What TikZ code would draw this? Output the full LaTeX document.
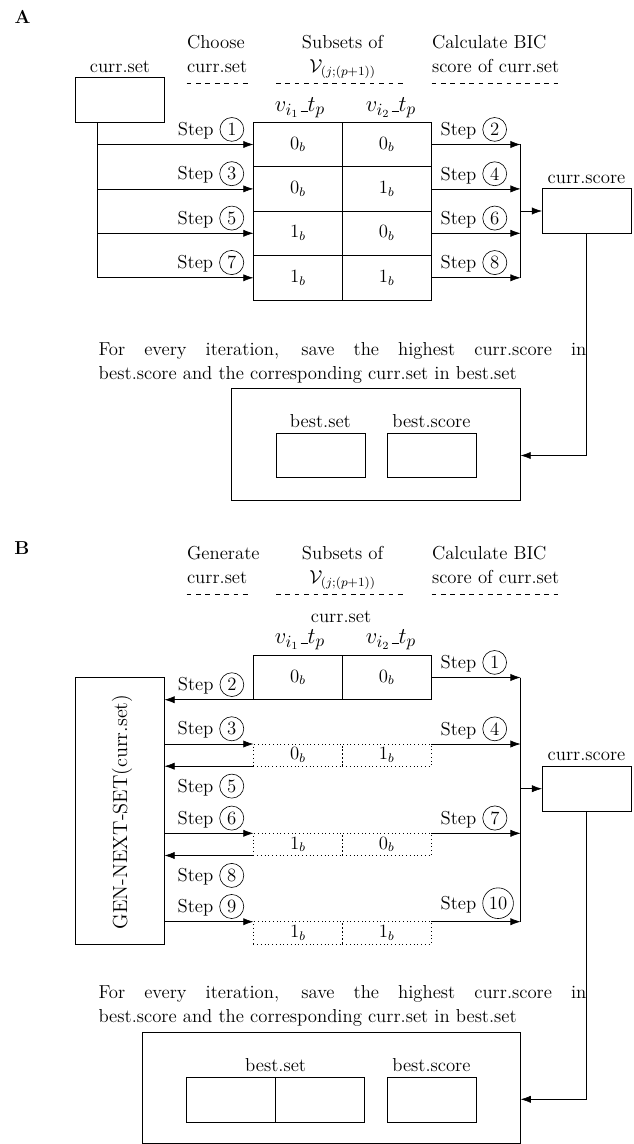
\documentclass[tikz,border=0pt]{standalone}
\usetikzlibrary{arrows.meta,calc}
\newcommand{\cnum}[1]{\tikz[baseline=(cn.base)]\node[draw,circle,inner sep=1.9pt](cn){#1};}
\newcommand{\usc}{\kern.06em\vbox{\hrule width.3em}}
\begin{document}
\begin{tikzpicture}[x=0.64pt,y=-0.64pt,
 every node/.style={font=\fontsize{12}{15.5}\selectfont},
 box/.style={draw, minimum width=56.9pt, minimum height=28.45pt, inner sep=0pt, outer sep=0pt},
 dcell/.style={draw, dotted, minimum width=56.9pt, minimum height=14.2pt, inner sep=0pt, outer sep=0pt},
 bigbox/.style={draw, inner sep=0pt, outer sep=0pt},
 arr/.style={-{Latex[length=6.5pt,width=4.6pt]}},
 steplbl/.style={inner sep=1pt},
 hdr/.style={inner sep=0pt},
 vlbl/.style={font=\fontsize{15}{18}\selectfont},
 para/.style={inner sep=0pt, anchor=north west, text width=312.2pt, align=justify},
 ttl/.style={font=\fontsize{12}{15.5}\selectfont\bfseries}
 ]
\useasboundingbox (0,0) rectangle (633,1144);

%% ---------------- Part A ----------------
\node[ttl] (labA) at (22.5,17) {A};

\node[hdr, anchor=north west, align=left] (hA1) at (186.7,35.1) {Choose\\curr.set};
\node[hdr, anchor=north, align=center] (hA2) at (342.6,35.1) {Subsets of\\$\mathcal{V}_{(j;(p+1))}$};
\node[hdr, anchor=north west, align=left] (hA3) at (431.7,35.1) {Calculate BIC\\score of curr.set};
\draw[dashed] (186.7,83.3) -- (249.4,83.3);
\draw[dashed] (276,83.3) -- (404,83.3);
\draw[dashed] (431.7,83.3) -- (559.8,83.3);

\node[box] (setA) at (120,100) {};
\node[anchor=south] (setAl) at (setA.north) {curr.set};

\node[vlbl] (vA1) at (300,108) {$v_{i_1}\mbox{\usc}t_p$};
\node[vlbl] (vA2) at (391,108) {$v_{i_2}\mbox{\usc}t_p$};

\node[box] (a11) at (297.9,144.5) {$0_b$};
\node[box] (a12) at (386.8,144.5) {$0_b$};
\node[box] (a21) at (297.9,188.9) {$0_b$};
\node[box] (a22) at (386.8,188.9) {$1_b$};
\node[box] (a31) at (297.9,233.3) {$1_b$};
\node[box] (a32) at (386.8,233.3) {$0_b$};
\node[box] (a41) at (297.9,277.8) {$1_b$};
\node[box] (a42) at (386.8,277.8) {$1_b$};

\node[box] (scoreA) at (586.5,211) {};
\node[anchor=south] (scoreAl) at (scoreA.north) {curr.score};

\coordinate (jA) at ($(setA.south west)!0.25!(setA.south east)$);
\coordinate (mA) at (520.6,144.5);
\foreach \r in {1,...,4}{
  \draw[arr] (jA) |- (a\r1.west);
  \draw[arr] (a\r2.east) -- (a\r2.east -| mA);
}
\draw (mA) -- (mA |- a42.east);
\draw[arr] (mA |- scoreA.west) -- (scoreA.west);

\node[steplbl, anchor=south east] (sA1) at ($(a11.west)+(-7.5,-1)$) {Step \cnum{1}};
\node[steplbl, anchor=south east] (sA3) at ($(a21.west)+(-7.5,-1)$) {Step \cnum{3}};
\node[steplbl, anchor=south east] (sA5) at ($(a31.west)+(-7.5,-1)$) {Step \cnum{5}};
\node[steplbl, anchor=south east] (sA7) at ($(a41.west)+(-7.5,-1)$) {Step \cnum{7}};
\node[steplbl, anchor=south west] (sA2) at ($(a12.east)+(7.5,-1)$) {Step \cnum{2}};
\node[steplbl, anchor=south west] (sA4) at ($(a22.east)+(7.5,-1)$) {Step \cnum{4}};
\node[steplbl, anchor=south west] (sA6) at ($(a32.east)+(7.5,-1)$) {Step \cnum{6}};
\node[steplbl, anchor=south west] (sA8) at ($(a42.east)+(7.5,-1)$) {Step \cnum{8}};

\node[para] (pA) at (98.2,341.7) {For every iteration, save the highest curr.score in\linebreak best.score and the corresponding curr.set in best.set};

\node[bigbox, minimum width=185.3pt, minimum height=71.7pt] (bigA) at (375.8,444) {};
\node[box] (bsA) at (320.4,455.5) {};
\node[box] (bscA) at (431.4,455.5) {};
\node[anchor=south] (bsAl) at (bsA.north) {best.set};
\node[anchor=south] (bscAl) at (bscA.north) {best.score};

\coordinate (tA) at (586.5,455.5);
\draw[arr] (scoreA.south) -- (tA) -- (tA -| bigA.east);

%% ---------------- Part B ----------------
\node[ttl] (labB) at (22,548) {B};

\node[hdr, anchor=north west, align=left] (hB1) at (186.7,546.1) {Generate\\curr.set};
\node[hdr, anchor=north, align=center] (hB2) at (342.6,546.1) {Subsets of\\$\mathcal{V}_{(j;(p+1))}$};
\node[hdr, anchor=north west, align=left] (hB3) at (431.7,546.1) {Calculate BIC\\score of curr.set};
\draw[dashed] (186.7,594.3) -- (249.4,594.3);
\draw[dashed] (276,594.3) -- (404,594.3);
\draw[dashed] (431.7,594.3) -- (559.8,594.3);

\node (cursetB) at (341,616.7) {curr.set};
\node[vlbl] (vB1) at (300,640) {$v_{i_1}\mbox{\usc}t_p$};
\node[vlbl] (vB2) at (391,640) {$v_{i_2}\mbox{\usc}t_p$};

\node[box] (b11) at (297.9,677.5) {$0_b$};
\node[box] (b12) at (386.8,677.5) {$0_b$};

\node[dcell] (d11) at (297.9,755.1) {$0_b$};
\node[dcell] (d12) at (386.8,755.1) {$1_b$};
\node[dcell] (d21) at (297.9,844.4) {$1_b$};
\node[dcell] (d22) at (386.8,844.4) {$0_b$};
\node[dcell] (d31) at (297.9,932.8) {$1_b$};
\node[dcell] (d32) at (386.8,932.8) {$1_b$};

\node[draw, minimum width=56.9pt, minimum height=170.7pt, inner sep=0pt, outer sep=0pt] (gen) at (120,810.5) {};
\node[rotate=90, font=\fontsize{13}{16}\selectfont] (gentxt) at (122,812) {GEN-NEXT-SET(curr.set)};

\node[box] (scoreB) at (586.5,788.7) {};
\node[anchor=south] (scoreBl) at (scoreB.north) {curr.score};

\coordinate (mB) at (520.6,677.5);
\draw[arr] (b12.east) -- (b12.east -| mB);
\draw[arr] (b11.south west) -- (b11.south west -| gen.east);
\draw[arr] (gen.east |- d11.north west) -- (d11.north west);
\draw[arr] (d12.north east) -- (d12.north east -| mB);
\draw[arr] (d11.south west) -- (d11.south west -| gen.east);
\draw[arr] (gen.east |- d21.north west) -- (d21.north west);
\draw[arr] (d22.north east) -- (d22.north east -| mB);
\draw[arr] (d21.south west) -- (d21.south west -| gen.east);
\draw[arr] (gen.east |- d31.north west) -- (d31.north west);
\draw[arr] (d32.north east) -- (d32.north east -| mB);
\draw (mB) -- (mB |- d32.north east);
\draw[arr] (mB |- scoreB.west) -- (scoreB.west);

\node[steplbl, anchor=south west] (sB1) at ($(b12.east)+(7.5,-1)$) {Step \cnum{1}};
\node[steplbl, anchor=south east] (sB2) at ($(b11.south west)+(-7.5,-1)$) {Step \cnum{2}};
\node[steplbl, anchor=south east] (sB3) at ($(d11.north west)+(-7.5,-1)$) {Step \cnum{3}};
\node[steplbl, anchor=south west] (sB4) at ($(d12.north east)+(7.5,-1)$) {Step \cnum{4}};
\node[steplbl, anchor=north east] (sB5) at ($(d11.south west)+(-7.5,5.7)$) {Step \cnum{5}};
\node[steplbl, anchor=south east] (sB6) at ($(d21.north west)+(-7.5,-1)$) {Step \cnum{6}};
\node[steplbl, anchor=south west] (sB7) at ($(d22.north east)+(7.5,-1)$) {Step \cnum{7}};
\node[steplbl, anchor=north east] (sB8) at ($(d21.south west)+(-7.5,5.7)$) {Step \cnum{8}};
\node[steplbl, anchor=south east] (sB9) at ($(d31.north west)+(-7.5,-1)$) {Step \cnum{9}};
\node[steplbl, anchor=south west] (sB10) at ($(d32.north east)+(7.5,-1)$) {Step \cnum{10}};

\node[para] (pB) at (98.2,985) {For every iteration, save the highest curr.score in\linebreak best.score and the corresponding curr.set in best.set};

\node[bigbox, minimum width=242.1pt, minimum height=70.8pt] (bigB) at (331.5,1088) {};
\node[box] (bsB1) at (231.2,1099.7) {};
\node[box] (bsB2) at (320.1,1099.7) {};
\node[box] (bscB) at (431.4,1099.7) {};
\node[anchor=south] (bsBl) at (bsB1.north east) {best.set};
\node[anchor=south] (bscBl) at (bscB.north) {best.score};

\coordinate (tB) at (586.5,1099.3);
\draw[arr] (scoreB.south) -- (tB) -- (tB -| bigB.east);
\end{tikzpicture}
\end{document}
